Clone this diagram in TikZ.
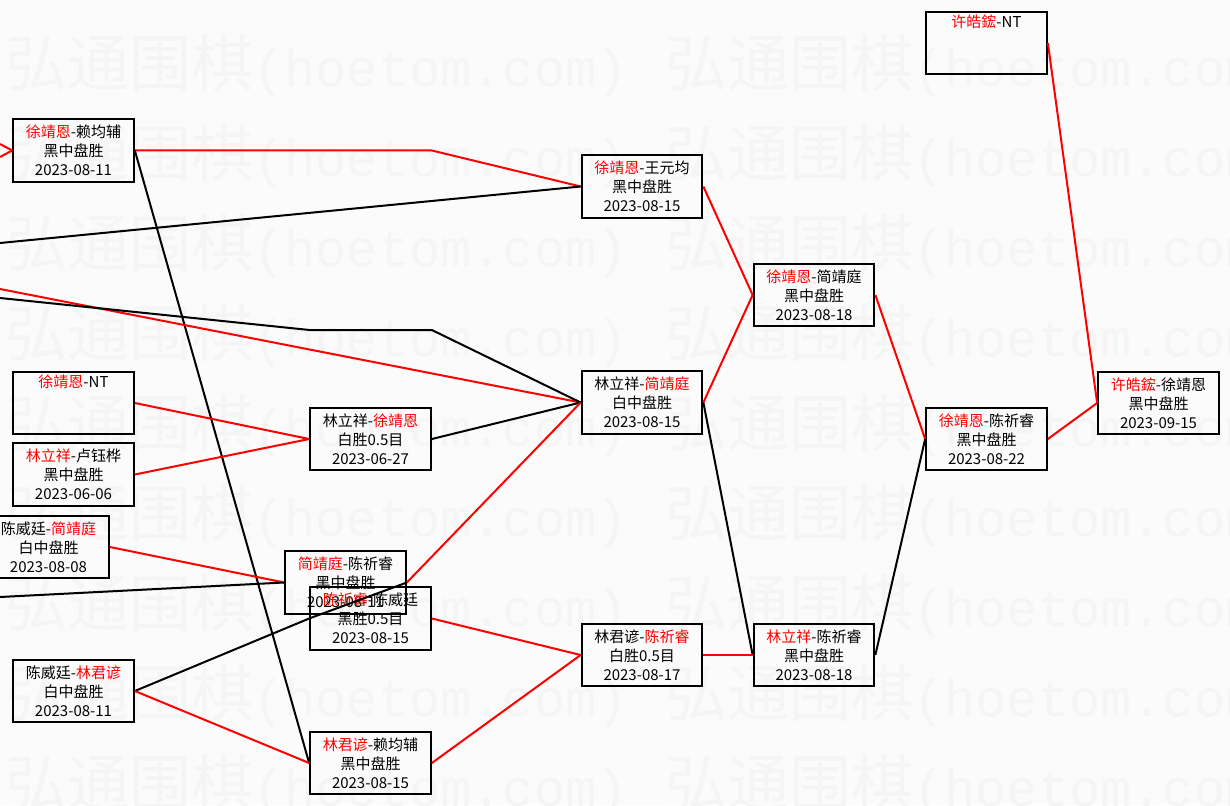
\documentclass[tikz,border=0pt]{standalone}
\usepackage{fontspec}
\setmainfont{Noto Sans CJK SC}
\newfontfamily\wmmono{Liberation Mono}
\newcommand{\wn}[1]{\textcolor{red}{#1}}

\begin{document}
\begin{tikzpicture}[x=1pt,y=-1pt]
  \tikzstyle{game}=[draw, line width=2.2pt, minimum width=120.5pt, minimum height=62.5pt,
    inner sep=0pt, align=center, font=\fontsize{15}{19}\selectfont]
  \tikzstyle{win}=[red, line width=2pt]
  \tikzstyle{lose}=[black, line width=2pt]
  \tikzstyle{wmark}=[anchor=west, inner sep=0pt, text=black!4]

  \useasboundingbox (0,0) rectangle (1230,805);
  \clip (0,0) rectangle (1230,805);
  \fill[black!1.5] (0,0) rectangle (1230,805);

  \foreach \r in {0,...,8} {
    \node[wmark] (wmleft\r) at (5,{66+90*\r}) {\fontsize{62}{62}\selectfont 弘通围棋{\wmmono\fontsize{52}{62}\selectfont(hoetom.com)}};
    \node[wmark] (wmright\r) at (665,{66+90*\r}) {\fontsize{62}{62}\selectfont 弘通围棋{\wmmono\fontsize{52}{62}\selectfont(hoetom.com)}};
  }

  \node[game] (xulai) at (73.5,150.5) {\wn{徐靖恩}-赖均辅\\黑中盘胜\\2023-08-11};
  \node[game] (xunt) at (73.5,403) {\wn{徐靖恩}-NT\\\strut\\\strut};
  \node[game] (linlu) at (73.5,474.5) {\wn{林立祥}-卢钰桦\\黑中盘胜\\2023-06-06};
  \node[game] (chenjian) at (48.5,547) {陈威廷-\wn{简靖庭}\\白中盘胜\\2023-08-08};
  \node[game] (chenlin) at (73.5,691) {陈威廷-\wn{林君谚}\\白中盘胜\\2023-08-11};

  \node[game] (linxu) at (370.5,439) {林立祥-\wn{徐靖恩}\\白胜0.5目\\2023-06-27};
  \node[game] (jianchen) at (345.5,582.5) {\wn{简靖庭}-陈祈睿\\黑中盘胜\\2023-08-11};
  \node[game] (chenchen) at (370.5,618.5) {\wn{陈祈睿}-陈威廷\\黑胜0.5目\\2023-08-15};
  \node[game] (linlai) at (370.5,763) {\wn{林君谚}-赖均辅\\黑中盘胜\\2023-08-15};

  \node[game] (xuwang) at (642,186.5) {\wn{徐靖恩}-王元均\\黑中盘胜\\2023-08-15};
  \node[game] (linjian) at (642,402.5) {林立祥-\wn{简靖庭}\\白中盘胜\\2023-08-15};
  \node[game] (linchen) at (642,655) {林君谚-\wn{陈祈睿}\\白胜0.5目\\2023-08-17};

  \node[game] (xujian) at (814,295) {\wn{徐靖恩}-简靖庭\\黑中盘胜\\2023-08-18};
  \node[game] (linqr) at (814,655) {\wn{林立祥}-陈祈睿\\黑中盘胜\\2023-08-18};

  \node[game] (xuchen) at (986.5,439) {\wn{徐靖恩}-陈祈睿\\黑中盘胜\\2023-08-22};
  \node[game] (hsunt) at (986.5,43) {\wn{许皓鋐}-NT\\\strut\\\strut};

  \node[game] (final) at (1158.5,403) {\wn{许皓鋐}-徐靖恩\\黑中盘胜\\2023-09-15};

  \coordinate (inA1) at (0,144);
  \coordinate (inA2) at (0,157);
  \coordinate (inB) at (0,243);
  \coordinate (inC) at (0,289);
  \coordinate (inD) at (0,298);
  \coordinate (inE) at (0,597);
  \coordinate (bendD) at (309.5,330);

  \draw[win] (inA1) -- (xulai.west);
  \draw[win] (inA2) -- (xulai.west);
  \draw[win] (xulai.east) -- (xulai.east -| linxu.east) -- (xuwang.west);
  \draw[lose] (xulai.east) -- (linlai.west);
  \draw[lose] (inB) -- (xuwang.west);
  \draw[win] (inC) -- (linjian.west);
  \draw[lose] (inD) -- (bendD) -- (bendD -| linxu.east) -- (linjian.west);
  \draw[win] (xunt.east) -- (linxu.west);
  \draw[win] (linlu.east) -- (linxu.west);
  \draw[lose] (linxu.east) -- (linjian.west);
  \draw[win] (chenjian.east) -- (jianchen.west);
  \draw[lose] (inE) -- (jianchen.west);
  \draw[win] (jianchen.east) -- (linjian.west);
  \draw[lose] (jianchen.east) -- (chenchen.west);
  \draw[lose] (chenlin.east) -- (chenchen.west);
  \draw[win] (chenlin.east) -- (linlai.west);
  \draw[win] (linlai.east) -- (linchen.west);
  \draw[win] (chenchen.east) -- (linchen.west);
  \draw[win] (xuwang.east) -- (xujian.west);
  \draw[win] (linjian.east) -- (xujian.west);
  \draw[lose] (linjian.east) -- (linqr.west);
  \draw[win] (linchen.east) -- (linqr.west);
  \draw[win] (xujian.east) -- (xuchen.west);
  \draw[lose] (linqr.east) -- (xuchen.west);
  \draw[win] (xuchen.east) -- (final.west);
  \draw[win] (hsunt.east) -- (final.west);
\end{tikzpicture}
\end{document}
